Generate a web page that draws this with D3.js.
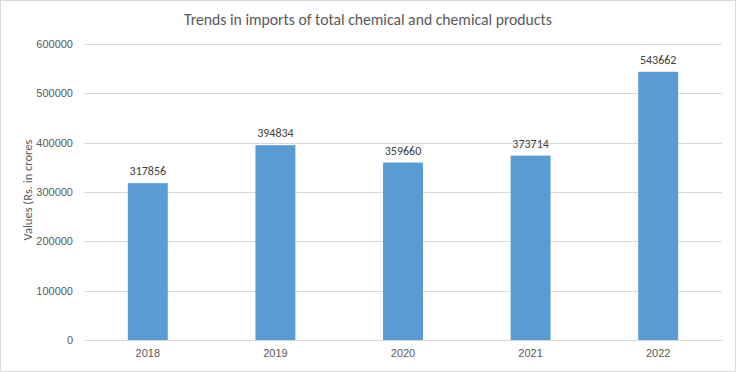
<!DOCTYPE html>
<html>
<head>
<meta charset="utf-8">
<script src="https://cdn.jsdelivr.net/npm/d3@7"></script>
<style>
  body { margin: 0; background: #fff; }
  svg { display: block; font-family: Calibri, Carlito, "Liberation Sans", Arial, sans-serif; }
</style>
</head>
<body>
<div id="chart"></div>
<script>
var title = "Trends in imports of total chemical and chemical products";
var yLabel = "Values (Rs. in crores";
var years = ["2018", "2019", "2020", "2021", "2022"];
var values = [317856, 394834, 359660, 373714, 543662];
var yTicks = [0, 100000, 200000, 300000, 400000, 500000, 600000];

var width = 736, height = 372;
var margin = {top: 44, right: 14, bottom: 32, left: 84};
var w = width - margin.left - margin.right;
var h = height - margin.top - margin.bottom;

var svg = d3.select("#chart").append("svg")
    .attr("width", width)
    .attr("height", height);

// outer border
svg.append("rect")
    .attr("x", 0.5).attr("y", 0.5)
    .attr("width", width - 1).attr("height", height - 1)
    .attr("fill", "#fff")
    .attr("stroke", "#d9d9d9");

var g = svg.append("g")
    .attr("transform", "translate(" + margin.left + "," + margin.top + ")");

var x = d3.scaleBand().domain(years).range([0, w]).paddingInner(0.687).paddingOuter(0.3435);
var y = d3.scaleLinear().domain([0, 600000]).range([h, 0]);

// gridlines
g.append("g")
    .selectAll("line")
    .data(yTicks)
    .enter().append("line")
    .attr("x1", 0).attr("x2", w)
    .attr("y1", function(d) { return Math.round(y(d)) + 0.5; })
    .attr("y2", function(d) { return Math.round(y(d)) + 0.5; })
    .attr("stroke", "#d9d9d9");

// y axis labels
var yAxis = d3.axisLeft(y).tickValues(yTicks).tickSize(0).tickPadding(11).tickFormat(d3.format("d"));
g.append("g")
    .call(yAxis)
    .call(function(s) { s.select(".domain").remove(); })
    .selectAll("text")
    .attr("fill", "#595959")
    .style("font-size", "11px")
    .style("font-family", null);

// x axis
var xAxis = d3.axisBottom(x).tickSize(0).tickPadding(9);
g.append("g")
    .attr("transform", "translate(0," + h + ")")
    .call(xAxis)
    .call(function(s) {
      s.select(".domain").attr("stroke", "#d9d9d9");
      s.selectAll("text").attr("fill", "#595959").style("font-size", "11px").style("font-family", null);
    });

// bars
g.selectAll(".bar")
    .data(values)
    .enter().append("rect")
    .attr("class", "bar")
    .attr("x", function(d, i) { return x(years[i]); })
    .attr("y", function(d) { return y(d); })
    .attr("width", x.bandwidth())
    .attr("height", function(d) { return h - y(d); })
    .attr("fill", "#5b9bd5");

// data labels
g.selectAll(".val")
    .data(values)
    .enter().append("text")
    .attr("class", "val")
    .attr("x", function(d, i) { return x(years[i]) + x.bandwidth() / 2; })
    .attr("y", function(d) { return y(d) - 8; })
    .attr("text-anchor", "middle")
    .attr("fill", "#404040")
    .style("font-size", "12px")
    .text(function(d) { return d; });

// title
svg.append("text")
    .attr("x", 368)
    .attr("y", 25)
    .attr("text-anchor", "middle")
    .attr("fill", "#595959")
    .style("font-size", "15.7px")
    .text(title);

// y axis title
svg.append("text")
    .attr("transform", "translate(32," + (margin.top + h / 2 - 2) + ") rotate(-90)")
    .attr("text-anchor", "middle")
    .attr("fill", "#595959")
    .style("font-size", "12.5px")
    .text(yLabel);
</script>
</body>
</html>
